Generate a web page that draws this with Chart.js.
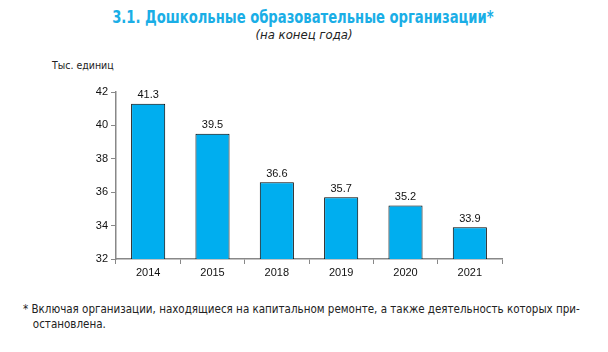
<!DOCTYPE html>
<html>
<head>
<meta charset="utf-8">
<script src="https://cdn.jsdelivr.net/npm/chart.js@4"></script>
<style>
  body { margin: 0; background: #fff; width: 608px; height: 352px; position: relative; overflow: hidden; }
  #chart { position: absolute; left: 0; top: 0; }
  .txt { position: absolute; white-space: nowrap; }
  #title { left: 0; width: 608px; top: 7px; text-align: center; font-family: "DejaVu Sans Condensed", "DejaVu Sans"; font-stretch: condensed; font-weight: bold; font-size: 17px; color: #1aaee6; transform: scaleX(0.86); transform-origin: 296px 0; }
  #sub { left: 0; width: 608px; top: 27px; text-align: center; font-family: "DejaVu Sans Condensed", "DejaVu Sans"; font-style: italic; font-size: 13px; color: #222; }
  #unit { left: 52px; top: 59px; font-family: "DejaVu Sans Condensed", "DejaVu Sans"; font-size: 10.5px; color: #222; }
  #note { left: 23px; top: 302px; font-family: "DejaVu Sans Condensed", "DejaVu Sans"; font-size: 11.5px; color: #222; line-height: 15px; }
</style>
</head>
<body>
<div class="txt" id="title">3.1. Дошкольные образовательные организации*</div>
<div class="txt" id="sub">(на конец года)</div>
<div class="txt" id="unit">Тыс. единиц</div>
<div class="txt" id="note">* Включая организации, находящиеся на капитальном ремонте, а также деятельность которых при-<br>&nbsp;&nbsp;&nbsp;остановлена.</div>
<canvas id="chart" width="608" height="352"></canvas>
<script>
// values
const YEARS = ['2014', '2015', '2018', '2019', '2020', '2021'];
const ORGS = [41.3, 39.5, 36.6, 35.7, 35.2, 33.9];
const Y_MIN = 32, Y_MAX = 42, Y_STEP = 2;

const BAR_COLOR = '#00aeef';
const AXIS_COLOR = '#888888';

// draws the number above each bar
const barLabels = {
    id: 'barLabels',
    afterDatasetsDraw(chart) {
        const ctx = chart.ctx;
        const meta = chart.getDatasetMeta(0);
        ctx.save();
        ctx.font = '11px "Liberation Sans", Arial';
        ctx.fillStyle = '#111';
        ctx.textAlign = 'center';
        ctx.textBaseline = 'bottom';
        meta.data.forEach((bar, i) => {
            ctx.fillText(ORGS[i].toFixed(1), bar.x, bar.y - 3);
        });
        ctx.restore();
    }
};

const ctx = document.getElementById('chart');

var chart = new Chart(ctx, {
    type: 'bar',
    data: {
        labels: YEARS,
        datasets: [{
            data: ORGS,
            backgroundColor: BAR_COLOR,
            borderColor: '#000',
            borderWidth: 1,
            categoryPercentage: 1,
            barPercentage: 0.53
        }]
    },
    options: {
        responsive: false,
        animation: false,
        layout: { padding: { left: 86, top: 92, right: 106, bottom: 69 } },
        plugins: { legend: { display: false }, tooltip: { enabled: false } },
        scales: {
            x: {
                afterFit: (s) => { s.height = 24; },
                border: { color: AXIS_COLOR, width: 1.5 },
                grid: { offset: true, drawOnChartArea: false, drawTicks: true, tickLength: 5, color: AXIS_COLOR },
                ticks: { color: '#111', font: { family: '"Liberation Sans", Arial', size: 11 }, padding: 2 }
            },
            y: {
                min: Y_MIN,
                max: Y_MAX,
                afterFit: (s) => { s.width = 30; },
                border: { color: AXIS_COLOR, width: 1.5 },
                grid: { drawOnChartArea: false, drawTicks: true, tickLength: 5, color: AXIS_COLOR },
                ticks: { stepSize: Y_STEP, color: '#111', font: { family: '"Liberation Sans", Arial', size: 11 }, padding: 3 }
            }
        }
    },
    plugins: [barLabels]
});
</script>
</body>
</html>
